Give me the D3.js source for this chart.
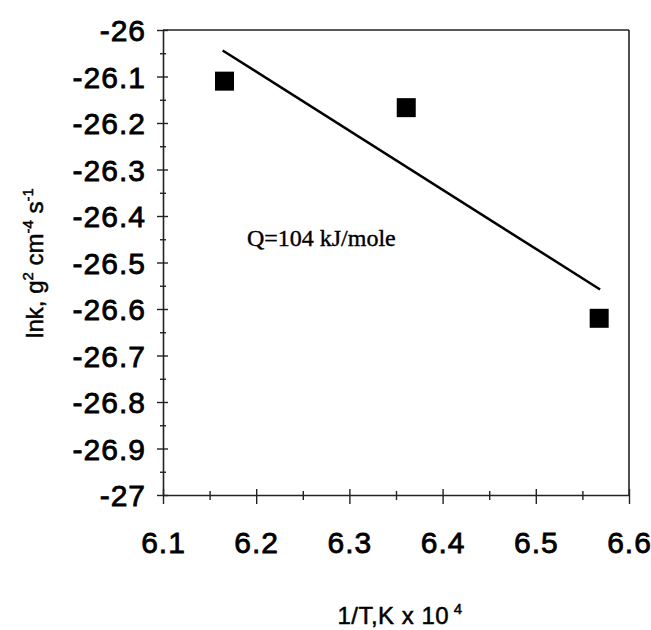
<!DOCTYPE html>
<html>
<head>
<meta charset="utf-8">
<title>lnk vs 1/T</title>
<style>
    body { margin: 0; background: #fff; }
    .tick text { font-family: "Liberation Sans", Arial, sans-serif; }
</style>
</head>
<body>
<svg id="chart"></svg>
<script src="https://d3js.org/d3.v7.min.js"></script>
<script>
    // measured points (1/T x 10^4, lnk)
    const invT = [6.166, 6.361, 6.568];
    const lnk = [-26.110, -26.167, -26.620];
    // fitted line end points
    const fitX = [6.164, 6.569];
    const fitY = [-26.044, -26.558];
    const xTicks = [6.1, 6.2, 6.3, 6.4, 6.5, 6.6];
    const yTicks = [-26, -26.1, -26.2, -26.3, -26.4, -26.5, -26.6, -26.7, -26.8, -26.9, -27];
    const note = "Q=104 kJ/mole";

    const svgWidth = 651, svgHeight = 630;
    const margin = {top: 30, right: 22, bottom: 135, left: 163};
    const width = svgWidth - margin.left - margin.right;
    const height = svgHeight - margin.top - margin.bottom;

    const svg = d3.select("#chart")
        .attr("width", svgWidth)
        .attr("height", svgHeight);

    const g = svg.append("g")
        .attr("transform", "translate(" + margin.left + "," + margin.top + ")");

    const x = d3.scaleLinear().domain([6.1, 6.6]).range([0, width]);
    const y = d3.scaleLinear().domain([-27, -26]).range([height, 0]);

    // frame top / right
    g.append("line").attr("x1", 0).attr("x2", width).attr("y1", 0).attr("y2", 0)
        .attr("stroke", "#222").attr("stroke-width", 1.6);
    g.append("line").attr("x1", width).attr("x2", width).attr("y1", 0).attr("y2", height)
        .attr("stroke", "#222").attr("stroke-width", 1.6);

    // minor ticks
    const xMinor = xTicks.slice(0, -1).map(function(d) { return d + 0.05; });
    const yMinor = yTicks.slice(1).map(function(d) { return d + 0.05; });

    g.append("g")
        .attr("transform", "translate(0," + height + ")")
        .call(d3.axisBottom(x).tickValues(xMinor).tickFormat(""))
        .call(function(a) {
            a.select(".domain").remove();
            a.selectAll(".tick line").attr("y1", -4).attr("y2", 5)
                .attr("stroke", "#222").attr("stroke-width", 1.4);
        });

    g.append("g")
        .call(d3.axisLeft(y).tickValues(yMinor).tickFormat(""))
        .call(function(a) {
            a.select(".domain").remove();
            a.selectAll(".tick line").attr("x1", 3).attr("x2", -3)
                .attr("stroke", "#222").attr("stroke-width", 1.4);
        });

    // major x axis
    g.append("g")
        .attr("transform", "translate(0," + height + ")")
        .call(d3.axisBottom(x).tickValues(xTicks).tickFormat(function(d) { return d.toFixed(1); }).tickSizeOuter(0))
        .call(function(a) {
            a.select(".domain").attr("stroke", "#222").attr("stroke-width", 1.6);
            a.selectAll(".tick line").attr("y1", -6).attr("y2", 9)
                .attr("stroke", "#222").attr("stroke-width", 1.4);
            a.selectAll(".tick text")
                .attr("y", 58).attr("dy", 0)
                .attr("fill", "#000")
                .attr("stroke", "#000").attr("stroke-width", 0.8)
                .style("font-size", "30px")
                .style("letter-spacing", "1px");
        });

    // major y axis (plain hyphen, as in the original)
    g.append("g")
        .call(d3.axisLeft(y).tickValues(yTicks).tickFormat(function(d) { return String(+d.toFixed(1)); }).tickSizeOuter(0))
        .call(function(a) {
            a.select(".domain").attr("stroke", "#222").attr("stroke-width", 1.6);
            a.selectAll(".tick line").attr("x1", 5).attr("x2", -6)
                .attr("stroke", "#222").attr("stroke-width", 1.4);
            a.selectAll(".tick text")
                .attr("x", -17).attr("dy", "0.36em")
                .attr("fill", "#000")
                .attr("stroke", "#000").attr("stroke-width", 0.8)
                .style("font-size", "30px")
                .style("letter-spacing", "1px");
        });

    // fitted line
    const fit = fitX.map(function(d, i) { return {x: d, y: fitY[i]}; });
    g.append("path")
        .datum(fit)
        .attr("fill", "none")
        .attr("stroke", "#000")
        .attr("stroke-width", 2.5)
        .attr("d", d3.line().x(function(d) { return x(d.x); }).y(function(d) { return y(d.y); }));

    // square markers
    const pts = invT.map(function(d, i) { return {x: d, y: lnk[i]}; });
    const s = 19;
    g.selectAll("rect.pt")
        .data(pts)
        .enter().append("rect")
        .attr("class", "pt")
        .attr("x", function(d) { return x(d.x) - s / 2; })
        .attr("y", function(d) { return y(d.y) - s / 2; })
        .attr("width", s)
        .attr("height", s)
        .attr("fill", "#000");

    // annotation
    g.append("text")
        .attr("x", x(6.19))
        .attr("y", y(-26.465))
        .attr("fill", "#000")
        .attr("stroke", "#000").attr("stroke-width", 0.4)
        .style("font-family", "'Liberation Serif', 'Times New Roman', serif")
        .style("font-size", "24px")
        .text(note);

    // axis titles
    const xt = svg.append("text")
        .attr("x", 400)
        .attr("y", 624)
        .attr("text-anchor", "middle")
        .attr("fill", "#000")
        .attr("stroke", "#000").attr("stroke-width", 0.5)
        .style("font-family", "'Liberation Sans', Arial, sans-serif")
        .style("font-size", "24px")
        .style("letter-spacing", "0.5px");
    xt.append("tspan").text("1/T,K x 10");
    xt.append("tspan").attr("dy", -10).style("font-size", "15px").text(" 4");

    const yt = svg.append("text")
        .attr("transform", "translate(43,263) rotate(-90)")
        .attr("text-anchor", "middle")
        .attr("fill", "#000")
        .attr("stroke", "#000").attr("stroke-width", 0.5)
        .style("font-family", "'Liberation Sans', Arial, sans-serif")
        .style("font-size", "24px");
    yt.append("tspan").text("lnk, g");
    yt.append("tspan").attr("dy", -10).style("font-size", "15px").text("2");
    yt.append("tspan").attr("dy", 10).text(" cm");
    yt.append("tspan").attr("dy", -10).style("font-size", "15px").text("-4");
    yt.append("tspan").attr("dy", 10).text(" s");
    yt.append("tspan").attr("dy", -10).style("font-size", "15px").text("-1");
</script>
</body>
</html>
